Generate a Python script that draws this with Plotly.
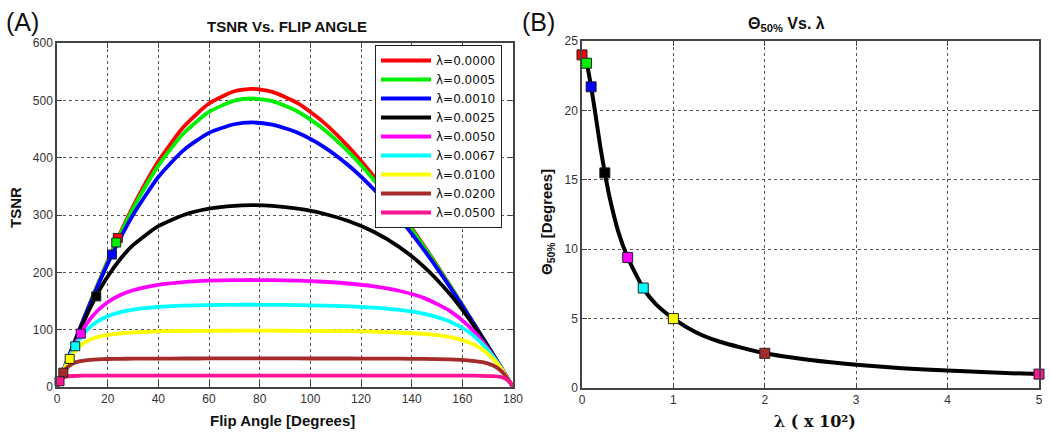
import plotly.graph_objects as go

# ---------------- data ----------------
flip_angle = [0, 1, 2, 4, 6, 8, 10, 13, 16, 20, 25, 30, 40, 50, 60, 70, 77, 85, 95,
              105, 115, 125, 135, 145, 155, 162, 168, 172, 175, 177, 179, 180]

lambda_labels = ["λ=0.0000", "λ=0.0005", "λ=0.0010", "λ=0.0025", "λ=0.0050",
                 "λ=0.0067", "λ=0.0100", "λ=0.0200", "λ=0.0500"]
colors = ["#ff0000", "#00ee00", "#0000ff", "#000000", "#ff00ff",
          "#00ffff", "#ffff00", "#a52a2a", "#ff1493"]

tsnr_l0000 = [0, 11.4, 22.8, 45.6, 68.2, 90.7, 113.0, 146.0, 178.2, 219.8, 269.0, 314.7, 393.5, 453.8, 494.4, 515.8,
              520.0, 514.8, 495.0, 462.5, 419.3, 367.6, 309.1, 245.4, 177.9, 129.0, 86.3, 57.7, 36.1, 21.7, 7.2, 0]
tsnr_l0005 = [0, 11.4, 22.8, 45.6, 68.2, 90.6, 112.8, 145.6, 177.5, 218.5, 266.6, 310.9, 386.1, 442.5, 479.9, 499.4,
              503.2, 498.6, 480.5, 450.6, 410.4, 361.6, 305.5, 243.6, 177.2, 128.7, 86.2, 57.7, 36.1, 21.7, 7.2, 0]
tsnr_l0010 = [0, 11.4, 22.8, 45.5, 68.0, 90.3, 112.3, 144.5, 175.4, 214.7, 259.8, 300.2, 366.2, 413.2, 443.3, 458.3,
              461.4, 457.6, 443.6, 419.8, 386.7, 345.0, 295.3, 238.3, 175.1, 127.9, 86.0, 57.6, 36.1, 21.7, 7.2, 0]
tsnr_l0025 = [0, 11.4, 22.8, 45.3, 67.2, 88.5, 108.7, 137.2, 162.8, 192.6, 223.2, 247.3, 280.5, 300.0, 311.0, 316.1,
              317.1, 315.9, 311.0, 302.6, 289.4, 270.7, 244.5, 209.2, 162.6, 122.8, 84.3, 57.1, 36.0, 21.7, 7.2, 0]
tsnr_l0050 = [0, 11.4, 22.7, 44.5, 64.6, 82.6, 98.4, 117.9, 133.0, 147.9, 160.5, 168.8, 178.3, 183.0, 185.4, 186.4,
              186.6, 186.4, 185.4, 183.6, 180.5, 175.7, 167.9, 155.0, 132.9, 108.4, 79.2, 55.4, 35.5, 21.6, 7.2, 0]
tsnr_l0067 = [0, 11.4, 22.5, 43.6, 62.0, 77.5, 90.1, 104.4, 114.4, 123.5, 130.5, 134.9, 139.6, 141.8, 142.9, 143.4,
              143.5, 143.3, 142.9, 142.0, 140.6, 138.3, 134.4, 127.5, 114.3, 97.6, 74.7, 53.8, 35.1, 21.5, 7.2, 0]
tsnr_l0100 = [0, 11.3, 22.2, 41.5, 56.3, 67.2, 74.9, 82.5, 87.2, 91.0, 93.7, 95.3, 96.9, 97.7, 98.0, 98.2,
              98.2, 98.2, 98.0, 97.7, 97.3, 96.5, 95.1, 92.6, 87.2, 79.0, 65.3, 50.0, 34.0, 21.2, 7.2, 0]
tsnr_l0200 = [0, 11.1, 20.7, 33.7, 40.3, 43.8, 45.7, 47.3, 48.1, 48.8, 49.2, 49.4, 49.6, 49.7, 49.8, 49.8,
              49.8, 49.8, 49.8, 49.7, 49.7, 49.5, 49.4, 49.0, 48.1, 46.6, 43.3, 37.8, 29.3, 19.9, 7.1, 0]
tsnr_l0500 = [0, 9.9, 15.0, 18.3, 19.2, 19.5, 19.7, 19.8, 19.9, 19.9, 19.9, 20.0, 20.0, 20.0, 20.0, 20.0,
              20.0, 20.0, 20.0, 20.0, 20.0, 20.0, 20.0, 19.9, 19.9, 19.8, 19.5, 18.9, 17.5, 14.7, 6.8, 0]

tsnr_series = [tsnr_l0000, tsnr_l0005, tsnr_l0010, tsnr_l0025, tsnr_l0050,
               tsnr_l0067, tsnr_l0100, tsnr_l0200, tsnr_l0500]

# theta 50% markers
theta50 = [24.0, 23.4, 21.7, 15.5, 9.4, 7.2, 5.0, 2.5, 1.0]
tsnr50 = [260, 252, 231, 158, 93, 71, 49, 25, 10]
lambda_x100 = [0, 0.05, 0.1, 0.25, 0.5, 0.67, 1.0, 2.0, 5.0]

# theta 50% curve (panel B)
curve_lambda = [0, 0.05, 0.1, 0.15, 0.2, 0.25, 0.3, 0.4, 0.5, 0.67, 0.8, 1.0, 1.25, 1.5,
                2.0, 2.5, 3.0, 3.5, 4.0, 4.5, 5.0]
curve_theta = [24.0, 23.4, 21.7, 19.6, 17.4, 15.5, 13.8, 11.2, 9.4, 7.2, 6.1, 5.0, 4.0, 3.35,
               2.5, 2.02, 1.68, 1.43, 1.26, 1.11, 1.0]

left_xticks = [0, 20, 40, 60, 80, 100, 120, 140, 160, 180]
left_yticks = [0, 100, 200, 300, 400, 500, 600]
right_xticks = [0, 1, 2, 3, 4, 5]
right_yticks = [0, 5, 10, 15, 20, 25]

# ---------------- figure ----------------
W, H = 1050, 437
fig = go.Figure()

for name, col, ys in zip(lambda_labels, colors, tsnr_series):
    fig.add_trace(go.Scatter(x=flip_angle, y=ys, mode="lines", name=name,
                             line=dict(color=col, width=3.8, shape="spline", smoothing=0.6),
                             xaxis="x", yaxis="y"))

fig.add_trace(go.Scatter(x=theta50, y=tsnr50, mode="markers", showlegend=False,
                         marker=dict(symbol="square", size=9, color=colors,
                                     line=dict(color="#222222", width=1)),
                         xaxis="x", yaxis="y", cliponaxis=False))

fig.add_trace(go.Scatter(x=curve_lambda, y=curve_theta, mode="lines", showlegend=False,
                         line=dict(color="black", width=4, shape="spline", smoothing=0.6),
                         xaxis="x2", yaxis="y2"))
fig.add_trace(go.Scatter(x=lambda_x100, y=theta50, mode="markers", showlegend=False,
                         marker=dict(symbol="square", size=10, color=colors,
                                     line=dict(color="#222222", width=1)),
                         xaxis="x2", yaxis="y2", cliponaxis=False))


def px_x(p):
    return p / W


def px_y(p):
    return 1 - p / H


axis_common = dict(showline=True, mirror="ticks", linecolor="#444444", linewidth=1.5,
                   ticks="inside", ticklen=5, tickcolor="#444444", automargin=False,
                   showgrid=True, gridcolor="#555555", gridwidth=1, griddash="dot",
                   zeroline=False, tickfont=dict(family="Liberation Sans, Arial, sans-serif",
                                                 size=12, color="#333333"))

fig.update_layout(
    width=W, height=H,
    margin=dict(l=0, r=0, t=0, b=0, autoexpand=False),
    paper_bgcolor="white", plot_bgcolor="white",
    xaxis=dict(domain=[px_x(57), px_x(513)], range=[0, 180], tickvals=left_xticks,
               anchor="y", **axis_common),
    yaxis=dict(domain=[px_y(387), px_y(43)], range=[0, 600], tickvals=left_yticks,
               anchor="x", **axis_common),
    xaxis2=dict(domain=[px_x(582), px_x(1039)], range=[0, 5], tickvals=right_xticks,
                anchor="y2", **axis_common),
    yaxis2=dict(domain=[px_y(388), px_y(41)], range=[0, 25], tickvals=right_yticks,
                anchor="x2", **axis_common),
    legend=dict(x=px_x(375), y=px_y(45), xanchor="left", yanchor="top",
                bgcolor="white", bordercolor="#222222", borderwidth=1,
                font=dict(family="DejaVu Sans, sans-serif", size=12, color="#111111"),
                tracegroupgap=0, itemwidth=50),
    showlegend=True,
)

font_main = "Liberation Sans, Arial, sans-serif"
ann = [
    dict(text="(A)", x=px_x(4), y=px_y(22), xanchor="left", yanchor="middle",
         font=dict(family=font_main, size=25, color="#111111")),
    dict(text="(B)", x=px_x(520), y=px_y(22), xanchor="left", yanchor="middle",
         font=dict(family=font_main, size=25, color="#111111")),
    dict(text="<b>TSNR Vs. FLIP ANGLE</b>", x=px_x(287), y=px_y(26), xanchor="center", yanchor="middle",
         font=dict(family=font_main, size=15, color="#111111")),
    dict(text="<b>Θ<sub>50%</sub> Vs. λ</b>", x=px_x(786), y=px_y(24), xanchor="center", yanchor="middle",
         font=dict(family=font_main, size=16, color="#111111")),
    dict(text="<b>Flip Angle [Degrees]</b>", x=px_x(282), y=px_y(420), xanchor="center", yanchor="middle",
         font=dict(family=font_main, size=15, color="#111111")),
    dict(text="<b>λ ( x 10²)</b>", x=px_x(815), y=px_y(421), xanchor="center", yanchor="middle",
         font=dict(family="DejaVu Serif, serif", size=16, color="#111111")),
    dict(text="<b>TSNR</b>", x=px_x(15), y=px_y(208), xanchor="center", yanchor="middle", textangle=-90,
         font=dict(family=font_main, size=15, color="#111111")),
    dict(text="<b>Θ<sub>50%</sub> [Degrees]</b>", x=px_x(547), y=px_y(222), xanchor="center",
         yanchor="middle", textangle=-90,
         font=dict(family=font_main, size=15, color="#111111")),
]
for a in ann:
    a.update(xref="paper", yref="paper", showarrow=False)
fig.update_layout(annotations=ann)

fig.write_html("out.html", config={"displayModeBar": False},
               post_script="document.body.style.margin='0';document.body.style.padding='0';")
